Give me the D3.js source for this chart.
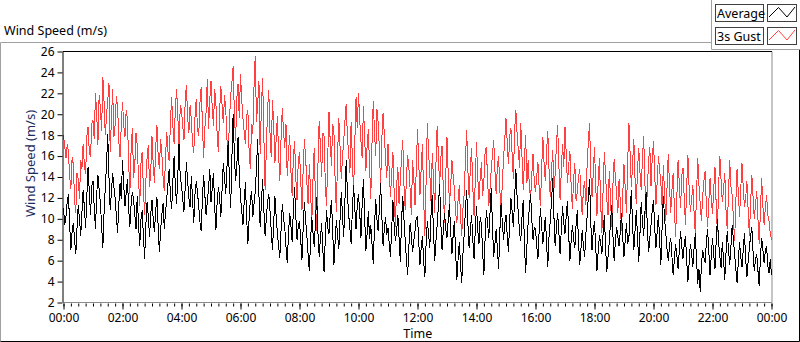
<!DOCTYPE html>
<html><head><meta charset="utf-8">
<script src="https://cdn.jsdelivr.net/npm/d3@7"></script>
<style>
html,body{margin:0;padding:0;background:#fff;}
svg{display:block;font-family:"Noto Sans",sans-serif;}
</style></head>
<body><svg id="c" width="800" height="342"></svg>
<script>
// ---- data (2.5-minute samples from 00:00 to 24:00) ----
const seriesNames = ["Average", "3s Gust"];
const gust = [
 18.0,16.9,15.8,17.1,16.4,14.0,12.9,15.9,15.2,11.8,10.6,14.4,13.8,11.9,15.6,14.8,17.2,15.0,14.3,17.9,18.8,16.4,15.9,19.1,
 19.4,17.6,22.0,20.1,17.1,21.8,20.6,18.4,23.6,21.2,18.0,19.9,21.3,23.0,16.4,19.6,22.4,17.8,19.0,21.7,20.8,17.4,15.9,18.9,
 21.2,19.0,17.8,20.4,19.6,15.3,12.4,16.6,18.7,13.9,15.1,18.2,17.0,14.1,11.2,15.3,16.4,12.8,10.4,13.6,15.8,17.1,13.0,14.6,
 17.9,15.2,13.4,16.8,19.0,16.1,14.8,17.6,16.2,14.0,12.7,15.9,18.3,16.4,15.5,19.4,21.6,18.8,17.2,20.6,22.4,19.8,16.8,20.9,
 20.4,18.9,17.5,21.3,22.8,19.7,18.2,20.9,19.4,17.2,16.3,19.8,21.5,18.6,17.9,21.1,22.6,19.2,15.8,18.7,20.2,23.4,18.6,21.4,
 23.2,20.6,18.9,22.4,21.0,18.1,16.4,20.3,22.7,20.9,19.2,21.8,20.5,17.6,15.9,19.4,21.8,23.0,24.6,20.2,17.4,21.5,22.9,19.6,
 23.8,21.4,19.6,18.3,17.2,19.9,20.4,16.5,14.8,19.1,18.1,22.7,25.6,19.3,21.0,23.2,16.2,20.8,23.5,17.9,12.8,16.6,20.4,22.3,
 18.2,15.9,21.4,19.0,15.3,17.6,19.8,16.2,13.6,17.7,20.6,18.4,16.8,19.1,14.1,16.3,18.0,14.6,12.2,15.9,17.4,13.9,11.8,15.5,
 16.4,13.7,10.8,14.9,17.6,15.8,13.5,11.4,15.2,12.6,9.6,13.9,16.8,11.7,8.8,15.1,19.4,16.9,14.0,18.2,17.9,13.3,11.2,16.0,
 20.2,17.4,15.1,19.1,18.4,13.6,10.7,16.2,19.6,16.8,13.8,15.9,17.5,19.4,21.0,17.8,16.2,14.4,19.3,15.8,12.4,17.3,21.6,18.7,
 22.0,19.5,17.4,15.8,20.8,17.9,14.6,16.9,18.6,15.0,11.9,17.3,21.3,18.4,16.0,20.5,19.2,16.6,13.2,17.7,20.1,18.1,15.7,13.9,
 17.2,14.6,12.1,14.3,16.4,12.5,9.2,13.1,15.0,11.4,13.6,15.9,17.5,13.2,10.8,14.0,16.1,14.9,12.8,10.4,15.6,13.8,11.3,14.7,
 18.6,15.4,12.3,14.8,17.2,11.9,8.4,13.6,19.2,16.3,14.4,11.7,16.3,13.8,10.6,15.2,18.9,16.0,13.1,15.9,17.0,12.6,9.6,14.1,
 17.8,14.3,11.4,13.2,15.6,14.1,12.9,10.6,9.6,11.8,13.2,10.2,8.4,11.0,12.4,15.7,18.5,14.6,12.0,14.9,16.8,13.0,10.3,13.6,
 17.3,14.0,11.8,13.9,15.4,12.2,13.6,16.4,16.9,13.8,11.2,12.9,14.7,16.2,17.5,14.6,12.4,15.1,16.0,12.7,10.9,13.4,15.8,17.6,
 19.6,17.3,15.2,17.9,18.7,16.1,13.8,18.4,20.4,18.2,16.6,14.9,19.2,16.0,12.8,15.6,18.0,13.4,15.6,13.1,11.9,14.2,16.2,13.5,
 12.6,14.1,15.4,12.9,11.2,14.8,17.8,15.3,13.6,16.4,18.4,14.7,12.1,14.5,16.6,12.8,14.3,17.1,19.0,15.2,11.8,14.6,17.2,15.0,
 18.8,16.2,13.4,15.1,16.5,13.2,10.9,13.8,15.3,11.7,12.6,14.0,14.8,12.2,10.4,12.9,13.6,11.3,15.2,17.4,19.2,14.3,12.1,14.4,
 16.9,13.1,10.3,13.6,15.8,11.6,8.6,12.8,16.4,14.2,11.9,10.4,14.6,12.0,9.2,13.3,15.7,13.9,12.4,10.6,13.8,11.5,8.8,12.4,
 15.2,12.9,10.6,15.4,19.2,16.1,13.0,15.3,17.6,13.8,11.4,14.7,16.8,14.4,12.8,15.8,17.9,13.5,10.2,12.8,15.5,16.9,13.1,15.9,
 17.4,14.2,11.3,13.5,16.0,14.7,13.4,11.2,15.1,12.4,9.8,13.0,16.2,13.3,10.6,12.7,14.4,10.9,8.3,12.1,15.6,13.4,11.0,14.1,
 14.9,12.0,9.4,13.1,16.1,12.9,10.7,11.8,13.2,10.6,8.6,12.4,15.8,13.2,11.4,9.8,12.2,13.6,14.6,11.3,9.2,11.6,13.9,11.8,
 10.5,12.8,15.0,11.3,8.7,13.2,16.0,13.6,11.6,12.9,14.4,10.8,9.0,12.4,15.6,13.1,12.3,10.0,7.9,11.7,14.8,12.5,10.2,12.9,
 15.3,13.0,11.1,12.0,13.6,10.9,8.4,11.5,14.2,12.1,10.0,11.4,12.7,9.9,7.6,10.8,13.9,11.2,9.4,11.1,12.3,10.4,9.8,8.6,
 8.0
];
const average = [
 11.0,9.4,10.2,11.6,12.4,9.5,7.0,8.8,9.6,8.0,6.6,9.2,11.3,10.0,8.4,10.6,12.8,11.0,9.1,12.2,15.0,12.6,10.4,13.1,
 13.6,11.1,9.0,12.3,14.2,12.8,11.5,9.4,7.2,10.6,13.0,15.2,18.1,14.0,10.8,12.6,14.4,13.1,12.0,10.3,8.6,11.4,13.4,11.9,
 15.6,13.2,11.2,12.5,13.8,11.0,9.2,11.4,12.6,11.8,10.4,9.0,12.2,9.6,7.4,9.9,10.8,8.4,6.2,9.4,11.6,10.2,8.3,10.5,
 11.8,10.0,8.7,10.8,12.1,9.3,6.8,8.9,10.4,11.5,9.0,10.6,12.0,13.4,14.8,12.2,10.9,13.7,16.0,13.1,11.4,14.2,17.2,13.9,
 13.2,11.9,10.7,13.0,15.4,13.6,12.0,11.1,14.1,11.8,9.6,12.4,13.6,12.5,11.2,9.7,8.8,11.9,14.2,12.3,10.4,11.6,12.9,14.8,
 11.6,12.9,14.4,11.2,8.9,11.6,13.0,12.1,10.2,12.8,15.3,13.9,12.4,15.0,17.4,13.6,11.0,15.8,20.0,16.2,13.6,15.1,17.8,14.4,
 12.0,10.8,9.4,11.6,13.5,10.1,7.6,9.9,11.8,12.7,10.2,11.4,12.6,14.9,17.6,12.3,9.2,11.5,13.8,10.9,8.4,10.0,11.6,12.4,
 10.8,8.9,7.0,9.6,12.2,10.3,8.6,7.4,6.3,9.0,11.4,10.1,9.2,7.3,5.8,8.4,10.6,9.4,7.8,10.8,13.0,10.2,8.0,9.3,
 9.8,8.0,6.1,9.2,11.6,9.9,8.4,6.6,5.0,7.8,10.2,8.6,7.3,9.8,12.1,8.7,6.4,8.1,9.6,7.0,4.9,8.2,10.8,9.1,
 8.6,10.4,11.8,8.9,5.6,7.8,9.9,8.4,7.1,10.0,12.6,10.2,8.3,11.9,15.6,12.4,10.4,9.1,7.6,10.8,13.2,11.0,9.0,11.3,
 12.4,10.6,8.2,11.5,13.8,10.2,6.9,8.6,10.7,8.1,9.4,7.6,5.7,9.2,11.9,10.0,8.8,11.1,13.4,10.3,7.4,9.0,10.2,8.5,
 9.1,7.6,6.4,9.0,11.8,9.5,7.9,8.8,10.4,8.2,5.9,9.7,12.2,9.9,8.0,6.1,4.6,7.4,9.6,8.4,6.8,7.9,8.9,10.1,
 10.2,7.8,5.6,7.2,8.4,6.0,4.4,7.6,9.8,8.6,7.2,10.4,12.3,8.8,6.0,7.9,9.4,11.2,13.3,9.6,7.0,8.9,10.6,9.0,
 8.2,9.9,11.4,8.8,6.6,8.4,9.8,6.9,4.2,6.1,7.8,5.6,3.9,6.7,8.6,10.9,12.8,9.5,7.2,8.8,10.4,8.0,6.2,8.9,
 11.2,9.0,7.6,10.2,9.4,6.8,4.6,8.1,10.8,9.6,8.2,10.6,12.9,9.3,6.4,7.6,9.0,7.1,5.2,8.8,11.5,9.7,8.0,9.5,
 10.4,8.4,6.8,9.9,12.0,10.7,9.2,11.9,14.8,12.2,10.6,8.7,7.9,10.1,11.8,7.6,4.8,7.4,9.6,11.1,12.4,9.9,8.0,9.2,
 9.0,7.4,6.2,8.9,11.0,9.3,7.6,8.8,10.2,7.7,5.4,8.3,9.8,11.6,13.9,10.2,7.4,9.1,10.6,8.7,6.6,9.0,11.2,9.6,
 8.6,10.3,11.7,8.5,6.0,7.9,9.4,8.1,7.2,9.4,10.8,7.8,5.6,7.2,8.9,7.4,6.4,8.6,10.2,12.1,13.8,9.6,7.0,8.8,
 9.8,7.2,5.0,6.9,8.4,7.8,6.6,8.6,10.4,7.3,4.9,6.4,7.8,9.6,11.3,8.4,6.0,7.9,9.2,8.3,7.4,8.8,10.6,8.1,
 6.4,8.0,9.6,7.6,8.2,10.7,12.8,9.3,7.0,8.9,10.8,8.2,5.9,8.6,11.6,9.8,8.4,10.6,12.6,9.1,6.8,8.1,9.4,10.9,
 11.8,9.1,7.2,8.8,10.4,7.9,5.6,9.2,12.2,10.0,8.6,7.1,6.0,7.4,8.2,6.4,4.6,6.2,7.6,6.5,5.2,7.0,8.8,7.3,
 6.2,7.5,8.4,6.0,4.0,5.8,7.6,6.7,5.4,7.2,8.6,6.1,3.8,5.2,3.0,5.6,7.0,6.3,5.8,7.8,9.0,6.9,4.6,6.5,
 8.2,6.6,5.2,7.9,10.0,7.7,6.4,5.3,7.8,6.1,4.2,6.8,8.8,7.1,5.6,7.4,9.4,8.0,6.6,5.2,3.9,5.9,7.8,6.4,
 5.4,7.0,8.6,6.2,4.4,5.9,7.2,8.4,9.2,6.8,5.0,6.1,6.6,5.0,3.6,6.3,8.2,7.0,5.8,6.9,7.4,5.5,4.8,6.2,
 4.6
];
const yTicks = [2,4,6,8,10,12,14,16,18,20,22,24,26];
const xMajorTicks = [0,120,240,360,480,600,720,840,960,1080,1200,1320,1440];
const xTickLabels = ["00:00","02:00","04:00","06:00","08:00","10:00","12:00","14:00","16:00","18:00","20:00","22:00","00:00"];

// ---- layout ----
const svg = d3.select("#c");
const L = 63.5, R = 772, T = 51.5, B = 302.5;
const x = d3.scaleLinear().domain([0, 1440]).range([L, 771.5]);
const y = d3.scaleLinear().domain([2, 26]).range([B, T]);

// outer frame
svg.append("path").attr("d","M0.5,341.5 L0.5,42.5 L711.5,42.5").attr("fill","none").attr("stroke","#a0a0a0");
svg.append("path").attr("d","M0.5,341.5 L799.5,341.5 L799.5,49.5").attr("fill","none").attr("stroke","#000");

// chart title
svg.append("text").attr("x",4).attr("y",35).attr("font-size",12.5).attr("fill","#000").text("Wind Speed (m/s)");

// legend
const lg = svg.append("g");
lg.append("path").attr("d","M711.5,0 L711.5,49.5 L800,49.5").attr("fill","none").attr("stroke","#a0a0a0");
const colors = ["#000000","#ff4040"];
seriesNames.forEach((n,i)=>{
  const oy = 4.5 + i*23;
  lg.append("rect").attr("x",715.5).attr("y",oy).attr("width",48).attr("height",17).attr("fill","#fff").attr("stroke","#404040");
  lg.append("text").attr("x",717).attr("y",oy+13).attr("font-size",12.5).attr("fill","#000").text(n);
  lg.append("rect").attr("x",767.5).attr("y",oy).attr("width",29).attr("height",17).attr("fill","#fff").attr("stroke","#404040");
  lg.append("path").attr("d",`M769,${oy+12.5} L778.5,${oy+3} L787,${oy+12.5} L795,${oy+2.5}`).attr("fill","none").attr("stroke",colors[i]).attr("stroke-width",1);
});

// plot border
svg.append("rect").attr("x",L-0.5).attr("y",T).attr("width",R-L+0.5).attr("height",B-T).attr("fill","#fff");
svg.append("path").attr("d",`M${R},${T} L${R},${B} L${L-0.5},${B}`).attr("fill","none").attr("stroke","#8a8a8a");

// series
const mkLine = arr => d3.line().x((d,i)=>x(i*1440/(arr.length-1))).y(d=>y(d))(arr);
const plot = svg.append("g");
plot.append("path").attr("d",mkLine(gust)).attr("fill","none").attr("stroke","#ff4040").attr("stroke-width",1).attr("shape-rendering","crispEdges");
plot.append("path").attr("d",mkLine(average)).attr("fill","none").attr("stroke","#000").attr("stroke-width",1).attr("shape-rendering","crispEdges");

svg.append("path").attr("d",`M${L-0.5},${B} L${L-0.5},${T} L${R},${T}`).attr("fill","none").attr("stroke","#000");

// y axis
const ya = svg.append("g").attr("transform",`translate(${L-1},0)`)
  .call(d3.axisLeft(y).tickValues(yTicks).tickSize(5).tickPadding(3).tickFormat(d3.format("d")));
ya.select(".domain").remove();
ya.selectAll("text").attr("font-size",12).attr("font-family","Noto Sans").attr("fill","#000");
ya.selectAll("line").attr("stroke","#000");

// x axis minor
const minor = d3.range(0,1441,15);
const xm = svg.append("g").attr("transform",`translate(0,${B+1})`)
  .call(d3.axisBottom(x).tickValues(minor).tickSize(3).tickFormat(""));
xm.select(".domain").remove();
xm.selectAll("line").attr("stroke","#000");
const xa = svg.append("g").attr("transform",`translate(0,${B+1})`)
  .call(d3.axisBottom(x).tickValues(xMajorTicks).tickSize(6).tickPadding(4).tickFormat((d,i)=>xTickLabels[i]));
xa.select(".domain").remove();
xa.selectAll("line").attr("stroke","#000");
xa.selectAll("text").attr("font-size",12).attr("font-family","Noto Sans").attr("fill","#000");

// axis titles
svg.append("text").attr("x",(L+R)/2).attr("y",338).attr("text-anchor","middle").attr("font-size",12.5).attr("fill","#000").text("Time");
svg.append("text").attr("transform","translate(35,163.5) rotate(-90)").attr("text-anchor","middle").attr("font-size",13).attr("fill","#1b2d5e").text("Wind Speed (m/s)");
</script></body></html>
